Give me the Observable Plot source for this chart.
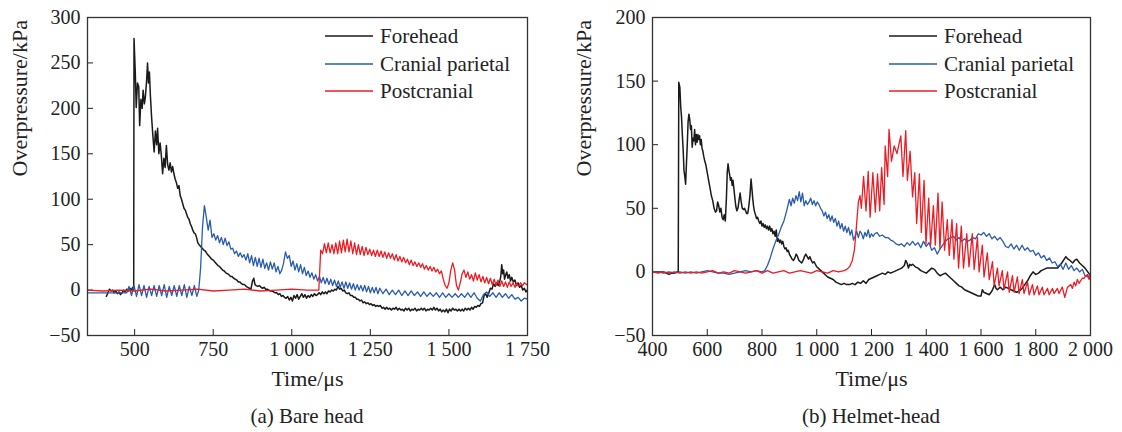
<!DOCTYPE html>
<html><head><meta charset="utf-8">
<script src="https://cdn.jsdelivr.net/npm/d3@7"></script>
<script src="https://cdn.jsdelivr.net/npm/@observablehq/plot@0.6"></script>
<style>
body{margin:0;background:#fff;}
#fig{position:relative;width:1122px;height:432px;font-family:"Liberation Serif","Times New Roman",serif;color:#222;}
.panel{position:absolute;top:0;width:561px;height:432px;}
.legend{position:absolute;top:0;font-size:21px;}
.row{position:absolute;left:0;height:24px;line-height:24px;white-space:nowrap;display:flex;align-items:center;}
.row svg{margin-right:7px;display:block;}
.caption{position:absolute;top:404px;font-size:21px;line-height:24px;text-align:center;white-space:nowrap;}
</style></head><body><div id="fig"></div>
<script>
const seriesNames = ["Forehead", "Cranial parietal", "Postcranial"];
const seriesColors = ["#1a1a1a", "#2a5cac", "#ec1c24"];
const panelTitles = ["(a) Bare head", "(b) Helmet-head"];
const xLabel = "Time/μs";
const yLabel = "Overpressure/kPa";
const bareTicksX = [500, 750, 1000, 1250, 1500, 1750];
const bareTicksY = [-50, 0, 50, 100, 150, 200, 250, 300];
const bareDomainX = [350, 1750];
const bareDomainY = [-50, 300];
const helmetTicksX = [400, 600, 800, 1000, 1200, 1400, 1600, 1800, 2000];
const helmetTicksY = [-50, 0, 50, 100, 150, 200];
const helmetDomainX = [400, 2000];
const helmetDomainY = [-50, 200];

// (a) Bare head — [time μs, overpressure kPa]
const bareForehead = [[410,-7],[415,-3],[420,1],[425,-1],[430,0],[435,-3],[440,-1],[445,-4],[450,-2],[455,-5],[460,-3],[465,0],[470,-2],[475,1],[480,-1],[485,2],[490,0],[494,3],[497,0],[498,277],[502,240],[505,201],[509,228],[513,224],[516,181],[520,210],[524,200],[527,220],[531,205],[534,212],[538,230],[541,250],[544,228],[547,240],[550,215],[554,190],[558,170],[562,152],[566,175],[570,160],[573,178],[577,150],[581,162],[585,148],[589,128],[593,145],[597,135],[601,159],[605,138],[609,132],[613,140],[617,130],[621,136],[625,128],[629,122],[633,118],[637,112],[641,115],[645,104],[649,100],[653,95],[657,90],[661,88],[665,84],[669,80],[673,78],[677,73],[681,70],[685,66],[689,63],[693,62],[697,58],[701,52],[705,50],[710,48],[715,46],[720,44],[725,43],[730,40],[735,38],[740,36],[745,34],[750,33],[755,31],[760,29],[765,27],[770,26],[775,24],[780,22],[785,21],[790,19],[795,18],[800,17],[805,15],[810,15],[815,13],[820,12],[825,11],[830,9],[835,9],[840,7],[845,6],[850,6],[855,4],[860,3],[865,2],[870,1],[875,10],[879,13],[883,6],[887,5],[892,4],[897,5],[902,3],[907,2],[912,3],[917,1],[922,1],[927,0],[932,-1],[937,-1],[942,-2],[947,-3],[952,-3],[957,-5],[962,-4],[967,-7],[972,-6],[977,-8],[982,-9],[987,-7],[992,-11],[997,-8],[1002,-12],[1007,-6],[1012,-9],[1017,-5],[1022,-10],[1027,-7],[1032,-4],[1037,-8],[1042,-5],[1047,-9],[1052,-6],[1057,-8],[1062,-5],[1067,-7],[1072,-4],[1077,-6],[1082,-5],[1087,-3],[1092,-5],[1097,-2],[1102,-4],[1107,-2],[1112,-4],[1117,-1],[1122,-2],[1127,0],[1132,-1],[1137,1],[1142,0],[1147,4],[1152,1],[1157,2],[1162,-1],[1167,0],[1172,-3],[1177,-4],[1182,-3],[1187,-6],[1192,-6],[1197,-8],[1202,-8],[1207,-10],[1212,-10],[1217,-12],[1222,-11],[1227,-14],[1232,-13],[1237,-15],[1242,-14],[1247,-16],[1252,-15],[1257,-17],[1262,-16],[1267,-18],[1272,-17],[1277,-18],[1282,-17],[1287,-20],[1292,-19],[1297,-21],[1302,-19],[1307,-21],[1312,-20],[1317,-22],[1322,-20],[1327,-21],[1332,-19],[1337,-22],[1342,-20],[1347,-22],[1352,-21],[1357,-23],[1362,-20],[1367,-22],[1372,-20],[1377,-23],[1382,-21],[1387,-22],[1392,-20],[1397,-23],[1402,-21],[1407,-22],[1412,-20],[1417,-22],[1422,-20],[1427,-23],[1432,-21],[1437,-22],[1442,-20],[1447,-22],[1452,-19],[1457,-22],[1462,-20],[1467,-23],[1472,-21],[1477,-24],[1482,-22],[1487,-24],[1492,-21],[1497,-25],[1502,-21],[1507,-23],[1512,-20],[1517,-22],[1522,-21],[1527,-23],[1532,-21],[1537,-23],[1542,-21],[1547,-23],[1552,-20],[1557,-22],[1562,-20],[1567,-22],[1572,-19],[1577,-21],[1582,-18],[1587,-19],[1592,-17],[1597,-18],[1602,-15],[1607,-14],[1612,-6],[1617,-4],[1622,-8],[1627,-3],[1632,2],[1637,1],[1642,7],[1647,4],[1652,8],[1657,5],[1662,10],[1665,15],[1668,28],[1671,18],[1674,22],[1677,12],[1680,16],[1684,20],[1688,13],[1692,17],[1696,10],[1700,14],[1705,9],[1710,11],[1715,5],[1720,8],[1725,3],[1730,5],[1735,0],[1740,2],[1745,-2],[1749,0]];
const bareParietal = [[350,-3],[400,-3],[450,-3],[475,-3],[482,4],[490,-6],[498,5],[506,-7],[514,6],[522,-6],[530,5],[538,-8],[546,4],[554,-6],[562,5],[570,-7],[578,5],[586,-6],[594,6],[602,-8],[610,4],[618,-6],[626,5],[634,-7],[642,5],[650,-6],[658,6],[666,-8],[674,4],[682,-6],[690,5],[698,-7],[704,0],[710,25],[716,70],[722,93],[728,80],[734,66],[740,77],[746,58],[752,62],[758,55],[764,60],[770,52],[776,58],[782,50],[788,57],[794,49],[800,53],[806,45],[812,46],[818,40],[824,43],[830,37],[836,41],[842,36],[848,39],[854,33],[860,40],[866,30],[872,38],[878,27],[884,36],[890,26],[896,35],[902,25],[908,34],[914,24],[920,30],[926,22],[932,31],[938,23],[944,30],[950,20],[956,26],[962,18],[968,22],[974,30],[980,42],[986,35],[992,38],[998,26],[1004,32],[1010,22],[1016,29],[1022,20],[1028,28],[1034,18],[1040,25],[1046,16],[1052,21],[1058,14],[1064,19],[1070,12],[1076,17],[1082,10],[1088,15],[1094,8],[1100,14],[1106,7],[1112,13],[1118,6],[1124,12],[1130,5],[1136,11],[1142,4],[1148,10],[1154,3],[1160,9],[1166,2],[1172,9],[1178,2],[1184,8],[1190,1],[1196,7],[1202,0],[1208,6],[1214,0],[1220,5],[1226,-1],[1232,5],[1238,-2],[1244,4],[1250,-3],[1256,3],[1262,-3],[1268,3],[1274,-4],[1280,2],[1290,-4],[1300,1],[1310,-5],[1320,0],[1330,-5],[1340,0],[1350,-6],[1360,-1],[1370,-6],[1380,-1],[1390,-6],[1400,-2],[1410,-7],[1420,-2],[1430,-7],[1440,-3],[1450,-7],[1460,-3],[1470,-8],[1480,-3],[1490,-8],[1500,-4],[1510,-8],[1520,-4],[1530,-8],[1540,-4],[1550,-8],[1560,-3],[1570,-8],[1580,-3],[1590,-9],[1600,-12],[1610,-5],[1620,-2],[1630,-7],[1640,-3],[1650,-8],[1660,-3],[1670,-8],[1680,-4],[1690,-9],[1700,-5],[1710,-10],[1720,-8],[1730,-12],[1740,-9],[1750,-10]];
const barePostcranial = [[350,0],[400,-1],[450,0],[500,-1],[550,1],[600,-1],[650,0],[700,1],[750,-1],[800,0],[850,1],[900,-1],[950,0],[1000,1],[1050,0],[1080,0],[1086,0],[1092,44],[1098,40],[1104,51],[1110,41],[1116,52],[1122,41],[1128,50],[1134,40],[1140,52],[1146,40],[1152,54],[1158,41],[1164,55],[1170,42],[1176,56],[1182,42],[1188,54],[1194,40],[1200,52],[1206,39],[1212,50],[1218,39],[1224,48],[1230,38],[1236,47],[1242,39],[1248,45],[1254,38],[1260,44],[1266,37],[1272,44],[1278,37],[1284,43],[1290,36],[1296,42],[1302,35],[1308,41],[1314,35],[1320,40],[1326,33],[1332,39],[1338,32],[1344,37],[1350,31],[1356,36],[1362,30],[1368,34],[1374,28],[1380,33],[1386,27],[1392,31],[1398,26],[1404,30],[1410,25],[1416,29],[1422,23],[1428,27],[1434,22],[1440,26],[1446,21],[1452,25],[1458,20],[1464,23],[1470,18],[1476,21],[1482,12],[1488,5],[1494,2],[1500,8],[1506,22],[1512,30],[1518,22],[1524,5],[1530,0],[1536,8],[1542,18],[1548,22],[1554,14],[1560,20],[1566,12],[1572,17],[1578,10],[1584,19],[1590,11],[1596,17],[1602,9],[1608,15],[1614,8],[1620,14],[1626,7],[1632,13],[1638,6],[1644,12],[1650,5],[1656,11],[1662,4],[1668,10],[1674,4],[1680,9],[1686,3],[1692,9],[1698,4],[1704,8],[1710,3],[1716,7],[1722,4],[1728,8],[1734,5],[1740,8],[1747,6]];

// (b) Helmet-head — [time μs, overpressure kPa]
const helmetForehead = [[400,0],[420,0],[440,0],[450,-1],[460,-2],[470,-1],[480,-1],[490,0],[494,0],[496,149],[500,145],[503,130],[506,122],[509,108],[512,96],[515,80],[518,75],[521,69],[524,85],[527,100],[530,118],[533,124],[536,120],[539,112],[542,115],[545,98],[548,105],[551,103],[554,112],[557,100],[560,108],[563,102],[566,108],[569,104],[572,107],[575,100],[578,104],[581,97],[584,95],[587,91],[590,88],[595,84],[600,78],[605,72],[610,66],[615,60],[620,56],[625,50],[630,47],[634,48],[638,55],[642,52],[646,47],[650,50],[654,43],[658,41],[662,45],[666,40],[670,58],[673,78],[676,85],[679,80],[682,76],[685,72],[688,74],[691,68],[694,72],[697,66],[700,60],[704,52],[708,48],[712,50],[716,56],[720,62],[724,55],[728,50],[732,49],[736,50],[740,48],[744,46],[748,46],[752,52],[756,60],[760,73],[763,66],[766,58],[769,52],[772,48],[776,45],[780,42],[784,43],[788,40],[792,38],[796,40],[800,36],[804,38],[808,35],[812,37],[816,34],[820,36],[824,33],[828,36],[832,32],[836,34],[840,30],[844,32],[848,28],[852,33],[856,24],[860,26],[864,23],[868,25],[872,22],[876,24],[880,20],[884,18],[888,19],[892,16],[896,17],[900,14],[905,12],[910,10],[915,9],[920,11],[925,14],[930,12],[935,9],[940,8],[945,7],[950,9],[955,12],[960,14],[965,12],[970,10],[975,12],[980,9],[985,7],[990,8],[995,6],[1000,4],[1010,2],[1020,0],[1030,-2],[1040,-4],[1050,-5],[1060,-6],[1070,-8],[1080,-9],[1090,-10],[1100,-9],[1110,-10],[1120,-10],[1130,-9],[1140,-10],[1150,-8],[1160,-9],[1170,-7],[1180,-9],[1190,-6],[1200,-5],[1210,-4],[1220,-3],[1230,-2],[1240,-1],[1250,-2],[1260,0],[1270,-1],[1280,0],[1290,1],[1300,2],[1310,3],[1320,5],[1325,9],[1330,7],[1335,3],[1340,6],[1345,5],[1350,6],[1360,4],[1370,3],[1380,1],[1390,0],[1400,-1],[1410,1],[1420,3],[1430,2],[1440,-1],[1450,-3],[1460,-2],[1470,-1],[1480,-3],[1490,-5],[1500,-7],[1510,-9],[1520,-11],[1530,-12],[1540,-14],[1550,-15],[1560,-16],[1570,-17],[1580,-18],[1590,-19],[1600,-19],[1605,-14],[1610,-16],[1620,-17],[1630,-18],[1640,-15],[1650,-10],[1655,-13],[1660,-14],[1670,-12],[1680,-14],[1690,-12],[1700,-13],[1710,-14],[1720,-15],[1730,-16],[1740,-15],[1750,-13],[1760,-10],[1770,-7],[1780,-3],[1790,0],[1800,-2],[1810,-1],[1820,1],[1830,2],[1840,3],[1860,3],[1880,3],[1895,7],[1910,12],[1918,10],[1925,9],[1935,7],[1942,9],[1950,10],[1960,7],[1970,5],[1980,3],[1990,0],[2000,-3]];
const helmetParietal = [[400,0],[420,0],[440,-1],[460,0],[480,-1],[500,0],[520,-1],[540,0],[560,-1],[580,0],[600,1],[620,0],[640,-1],[660,-1],[680,-2],[700,-1],[720,0],[740,1],[760,0],[780,1],[800,0],[810,1],[820,5],[830,11],[840,18],[850,24],[860,29],[870,35],[880,40],[890,48],[900,57],[906,52],[912,58],[918,54],[924,60],[930,56],[936,63],[942,55],[948,62],[954,52],[960,56],[966,53],[972,55],[978,58],[984,53],[990,56],[996,52],[1002,55],[1008,53],[1014,50],[1020,48],[1026,44],[1032,47],[1038,42],[1044,45],[1050,40],[1056,44],[1062,39],[1068,42],[1074,36],[1080,40],[1086,34],[1092,38],[1098,32],[1104,36],[1110,31],[1116,35],[1122,29],[1128,33],[1134,25],[1140,28],[1146,32],[1152,27],[1158,32],[1164,30],[1170,26],[1176,31],[1182,28],[1188,33],[1194,27],[1200,30],[1206,28],[1212,30],[1220,31],[1230,28],[1240,29],[1250,27],[1260,27],[1270,25],[1280,24],[1290,22],[1300,21],[1310,22],[1320,20],[1330,23],[1340,21],[1350,24],[1360,21],[1370,23],[1380,19],[1390,24],[1400,20],[1410,23],[1420,17],[1430,19],[1440,14],[1450,18],[1460,21],[1470,24],[1480,26],[1490,27],[1500,28],[1510,25],[1520,27],[1530,24],[1540,26],[1550,24],[1560,25],[1570,27],[1580,26],[1590,30],[1600,29],[1610,31],[1620,28],[1630,30],[1640,26],[1650,28],[1660,25],[1670,27],[1680,24],[1690,20],[1700,19],[1710,22],[1720,18],[1730,21],[1740,17],[1750,21],[1760,17],[1770,19],[1780,16],[1790,17],[1800,13],[1810,15],[1820,11],[1830,13],[1840,9],[1850,11],[1860,7],[1870,8],[1880,4],[1890,6],[1900,2],[1910,7],[1920,2],[1930,5],[1940,1],[1950,3],[1960,0],[1970,2],[1980,-3],[1990,-4],[2000,-2]];
const helmetPostcranial = [[400,0],[420,-1],[440,0],[460,-1],[480,0],[500,-1],[520,0],[540,-1],[560,0],[580,-1],[600,0],[620,1],[640,-1],[660,0],[680,-1],[700,1],[720,0],[740,-1],[760,0],[780,1],[800,-1],[820,1],[840,-1],[860,0],[880,1],[900,-1],[920,0],[940,1],[960,0],[980,-1],[1000,1],[1020,0],[1040,-1],[1060,1],[1080,0],[1100,1],[1110,2],[1120,4],[1130,9],[1138,18],[1145,36],[1152,55],[1158,60],[1163,50],[1171,75],[1180,48],[1188,79],[1195,43],[1205,78],[1214,47],[1222,77],[1230,48],[1237,82],[1246,53],[1250,99],[1259,75],[1264,112],[1273,87],[1283,99],[1293,93],[1307,107],[1315,75],[1325,111],[1331,72],[1341,95],[1350,59],[1358,78],[1365,38],[1375,77],[1382,31],[1392,72],[1399,22],[1409,58],[1416,21],[1426,52],[1433,21],[1443,62],[1450,18],[1458,55],[1467,17],[1477,41],[1484,13],[1494,41],[1501,10],[1511,38],[1518,3],[1528,36],[1536,3],[1548,30],[1556,4],[1568,30],[1575,2],[1587,27],[1593,0],[1605,21],[1611,-4],[1623,15],[1630,-6],[1642,8],[1648,-11],[1660,3],[1666,-11],[1678,1],[1684,-14],[1697,0],[1703,-16],[1715,-3],[1721,-16],[1733,-4],[1739,-17],[1751,-6],[1757,-17],[1770,-8],[1776,-18],[1788,-10],[1794,-18],[1806,-11],[1812,-18],[1824,-12],[1830,-18],[1843,-13],[1849,-18],[1861,-13],[1867,-17],[1879,-13],[1885,-17],[1897,-12],[1906,-20],[1916,-12],[1928,-10],[1934,-13],[1940,-8],[1946,-11],[1952,-6],[1958,-9],[1964,-7],[1970,-5],[1977,-5],[1983,-3],[1989,-2],[1995,-6],[2000,-2]];

const fontStack = '"Liberation Serif","Times New Roman",serif';
const fmtX = d => d3.format(",")(d).replace(/,/g, " ");

function makePanel(opts) {
  const panel = document.createElement("div");
  panel.className = "panel";
  panel.style.left = opts.left + "px";
  const series = opts.series;
  const chart = Plot.plot({
    width: 561, height: 395,
    marginLeft: opts.ml, marginRight: opts.mr, marginTop: 17, marginBottom: 60,
    style: {fontFamily: fontStack, fontSize: "20px", color: "#222", background: "transparent", overflow: "visible"},
    x: {domain: opts.domainX},
    y: {domain: opts.domainY},
    marks: [
      Plot.axisX({ticks: opts.ticksX, tickSize: -6, tickPadding: 12, tickFormat: fmtX, label: null}),
      Plot.axisY({ticks: opts.ticksY, tickSize: -6, tickPadding: 13, label: null}),
      ...series.map((s, i) => Plot.line(s, {x: d => d[0], y: d => d[1], stroke: seriesColors[i], strokeWidth: i === 0 ? 1.5 : 1.3, clip: true})),
      Plot.frame({stroke: "#333", strokeWidth: 1.3}),
      Plot.text([xLabel], {text: d => d, frameAnchor: "bottom", dy: 50, fontSize: 22}),
      Plot.text([yLabel], {text: d => d, frameAnchor: "left", dx: opts.ylabDx, rotate: -90, fontSize: 22})
    ]
  });
  panel.appendChild(chart);
  const legend = document.createElement("div");
  legend.className = "legend";
  legend.style.left = opts.legendLeft + "px";
  seriesNames.forEach((name, i) => {
    const row = document.createElement("div");
    row.className = "row";
    row.style.top = (24 + i * 27.5) + "px";
    row.innerHTML = `<svg width="48" height="4"><line x1="0" x2="48" y1="2" y2="2" stroke="${seriesColors[i]}" stroke-width="1.5"/></svg><span>${name}</span>`;
    legend.appendChild(row);
  });
  panel.appendChild(legend);
  const cap = document.createElement("div");
  cap.className = "caption";
  cap.style.left = opts.ml + "px";
  cap.style.width = (561 - opts.ml - opts.mr) + "px";
  cap.textContent = opts.title;
  panel.appendChild(cap);
  document.getElementById("fig").appendChild(panel);
}

makePanel({left: 0, ml: 87, mr: 34, domainX: bareDomainX, domainY: bareDomainY, ticksX: bareTicksX, ticksY: bareTicksY,
  series: [bareForehead, bareParietal, barePostcranial], title: panelTitles[0], legendLeft: 325, ylabDx: -68});
makePanel({left: 561, ml: 91, mr: 32, domainX: helmetDomainX, domainY: helmetDomainY, ticksX: helmetTicksX, ticksY: helmetTicksY,
  series: [helmetForehead, helmetParietal, helmetPostcranial], title: panelTitles[1], legendLeft: 328, ylabDx: -69});
</script></body></html>
